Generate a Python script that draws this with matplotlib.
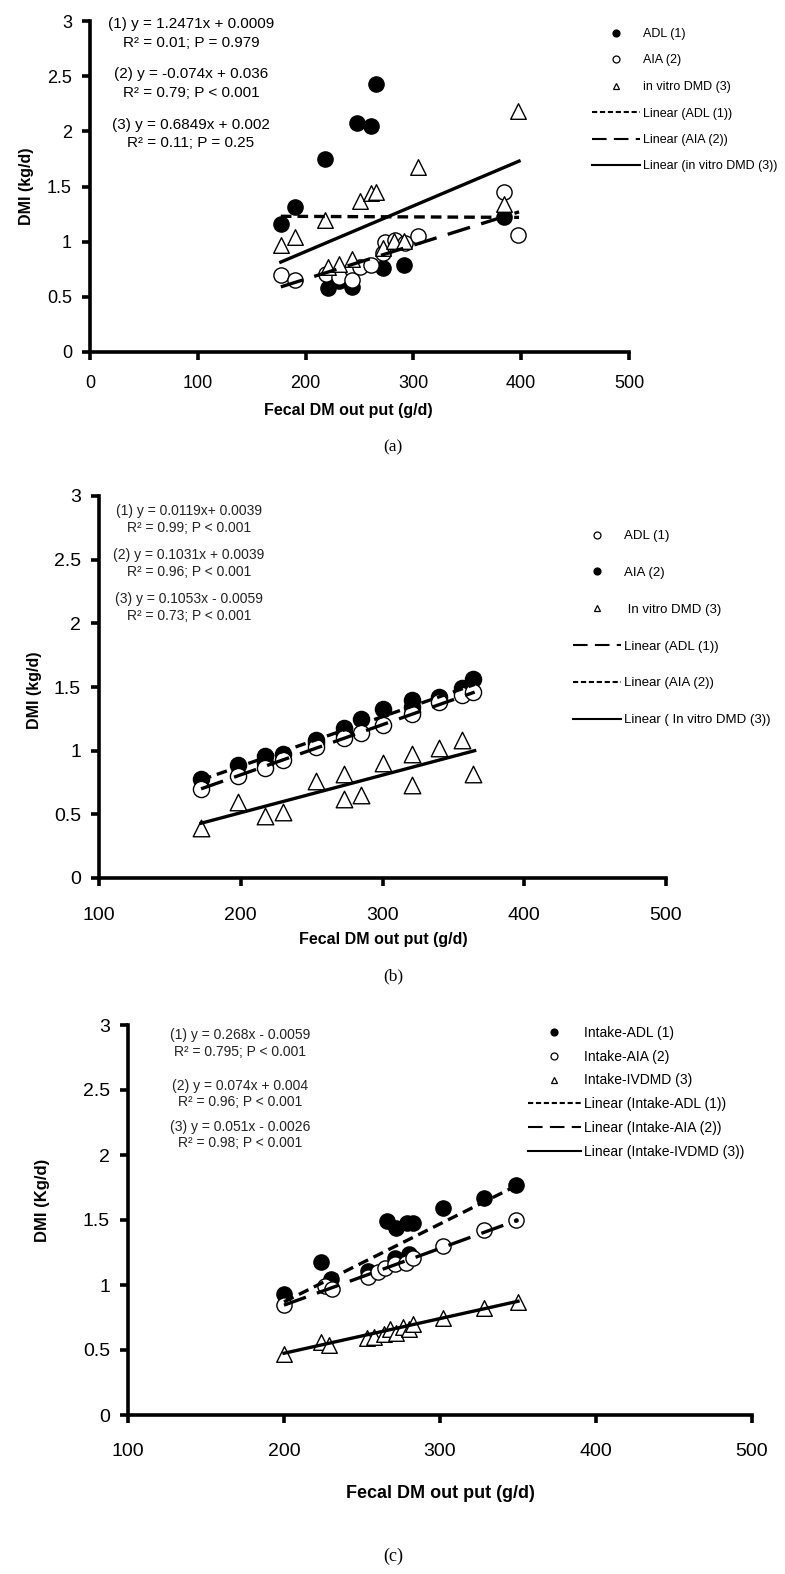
import matplotlib
matplotlib.use("Agg")
import matplotlib.pyplot as plt
from matplotlib.lines import Line2D

plt.rcParams['font.family'] = ['Liberation Sans', 'DejaVu Sans']

W, H = 785, 1574

# ---------------- Panel (a) data ----------------
a_adl_x = [177, 190, 218, 221, 231, 243, 248, 261, 265, 272, 291, 384]
a_adl_y = [1.16, 1.31, 1.75, 0.58, 0.64, 0.59, 2.08, 2.05, 2.43, 0.76, 0.79, 1.22]
a_aia_x = [177, 190, 219, 231, 243, 250, 261, 272, 274, 283, 292, 304, 384, 397]
a_aia_y = [0.70, 0.655, 0.71, 0.68, 0.65, 0.77, 0.79, 0.90, 1.00, 1.015, 0.985, 1.05, 1.45, 1.06]
a_ivd_x = [177, 190, 218, 221, 231, 243, 250, 261, 265, 272, 282, 291, 304, 384, 397]
a_ivd_y = [0.97, 1.04, 1.20, 0.77, 0.80, 0.84, 1.37, 1.44, 1.45, 0.94, 1.01, 1.01, 1.68, 1.34, 2.18]
a_fit_x = [177, 398]
a_fit_adl = [1.23, 1.22]
a_fit_aia = [0.59, 1.27]
a_fit_ivd = [0.815, 1.73]
a_labels = ["ADL (1)", "AIA (2)", "in vitro DMD (3)",
            "Linear (ADL (1))", "Linear (AIA (2))", "Linear (in vitro DMD (3))"]
a_eqs = ["(1) y = 1.2471x + 0.0009", "R² = 0.01; P = 0.979",
         "(2) y = -0.074x + 0.036", "R² = 0.79; P < 0.001",
         "(3) y = 0.6849x + 0.002", "R² = 0.11; P = 0.25"]

# ---------------- Panel (b) data ----------------
b_adl_x = [172, 198, 217, 230, 253, 273, 285, 300, 321, 340, 356, 364]
b_adl_y = [0.70, 0.80, 0.86, 0.93, 1.03, 1.10, 1.14, 1.20, 1.29, 1.38, 1.44, 1.46]
b_aia_x = [172, 198, 217, 217, 230, 253, 253, 273, 273, 285, 300, 321, 321, 340, 356, 364]
b_aia_y = [0.78, 0.89, 0.96, 0.90, 0.97, 1.08, 1.06, 1.18, 1.13, 1.25, 1.33, 1.40, 1.34, 1.42, 1.49, 1.56]
b_ivd_x = [172, 198, 217, 230, 253, 273, 273, 285, 300, 321, 321, 340, 356, 364]
b_ivd_y = [0.39, 0.60, 0.49, 0.52, 0.76, 0.82, 0.62, 0.65, 0.90, 0.97, 0.73, 1.02, 1.08, 0.82]
b_fit_x = [172, 365]
b_fit_adl = [0.70, 1.46]
b_fit_aia = [0.77, 1.52]
b_fit_ivd = [0.43, 1.00]
b_labels = ["ADL (1)", "AIA (2)", " In vitro DMD (3)",
            "Linear (ADL (1))", "Linear (AIA (2))", "Linear ( In vitro DMD (3))"]
b_eqs = ["(1) y = 0.0119x+ 0.0039", "R² = 0.99; P < 0.001",
         "(2) y = 0.1031x + 0.0039", "R² = 0.96; P < 0.001",
         "(3) y = 0.1053x - 0.0059", "R² = 0.73; P < 0.001"]

# ---------------- Panel (c) data ----------------
c_adl_x = [200, 224, 230, 254, 266, 271, 272, 279, 280, 283, 302, 328, 349]
c_adl_y = [0.93, 1.18, 1.05, 1.11, 1.49, 1.21, 1.44, 1.48, 1.24, 1.48, 1.59, 1.67, 1.77]
c_aia_x = [200, 226, 231, 254, 260, 265, 271, 278, 283, 302, 328, 349]
c_aia_y = [0.85, 0.99, 0.97, 1.06, 1.10, 1.13, 1.16, 1.17, 1.21, 1.30, 1.42, 1.50]
c_dot_x = [349]
c_dot_y = [1.50]
c_ivd_x = [200, 224, 229, 253, 258, 264, 268, 272, 276, 280, 283, 302, 328, 350]
c_ivd_y = [0.47, 0.56, 0.54, 0.59, 0.60, 0.62, 0.66, 0.63, 0.68, 0.66, 0.70, 0.75, 0.82, 0.87]
c_fit_x = [200, 350]
c_fit_adl = [0.87, 1.77]
c_fit_aia = [0.845, 1.50]
c_fit_ivd = [0.475, 0.875]
c_labels = ["Intake-ADL (1)", "Intake-AIA (2)", "Intake-IVDMD (3)",
            "Linear (Intake-ADL (1))", "Linear (Intake-AIA (2))", "Linear (Intake-IVDMD (3))"]
c_eqs = ["(1) y = 0.268x - 0.0059", "R² = 0.795; P < 0.001",
         "(2) y = 0.074x + 0.004", "R² = 0.96; P < 0.001",
         "(3) y = 0.051x - 0.0026", "R² = 0.98; P < 0.001"]

y_ticks = [0, 0.5, 1, 1.5, 2, 2.5, 3]
y_ticklabels = ["0", "0.5", "1", "1.5", "2", "2.5", "3"]

SHORT = (0, (3.2, 1.8))
LONG = (0, (7.0, 3.5))

fig = plt.figure(figsize=(W / 100, H / 100), dpi=100)


def fx(px):
    return px / W


def fy(py):
    return 1 - py / H


def make_axes(x0, x1, ytop, ybot):
    return fig.add_axes([fx(x0), fy(ybot), (x1 - x0) / W, (ybot - ytop) / H])


def style(ax, xlim, xticks, fs, xpad):
    ax.set_xlim(*xlim)
    ax.set_ylim(0, 3)
    ax.set_xticks(xticks)
    ax.set_yticks(y_ticks)
    ax.set_yticklabels(y_ticklabels)
    for s in ("top", "right"):
        ax.spines[s].set_visible(False)
    for s in ("left", "bottom"):
        ax.spines[s].set_linewidth(2.6)
    ax.tick_params(axis="both", direction="out", length=6, width=2.6, labelsize=fs)
    ax.tick_params(axis="x", pad=xpad)
    ax.tick_params(axis="y", pad=7)


def draw(ax, filled, opened, tri, fits, styles, ms):
    ax.scatter(filled[0], filled[1], s=ms, marker="o", facecolor="black",
               edgecolor="black", linewidth=1, zorder=2)
    ax.scatter(opened[0], opened[1], s=ms, marker="o", facecolor="white",
               edgecolor="black", linewidth=1, zorder=2.1)
    ax.scatter(tri[0], tri[1], s=ms * 1.05, marker="^", facecolor="white",
               edgecolor="black", linewidth=1, zorder=2.2)
    fx_, f1, f2, f3 = fits
    ax.plot(fx_, f1, color="black", lw=2.4, ls=styles[0], zorder=3)
    ax.plot(fx_, f2, color="black", lw=2.4, ls=styles[1], zorder=3)
    ax.plot(fx_, f3, color="black", lw=2.4, ls="-", zorder=3)


def legend(labels, first_filled, lstyles, x, y, fs, hl, spacing):
    mk1 = dict(marker="o", ls="none", mec="black", ms=5, mew=0.9)
    h = [
        Line2D([], [], mfc="black" if first_filled else "white", **mk1),
        Line2D([], [], mfc="white" if first_filled else "black", **mk1),
        Line2D([], [], marker="^", ls="none", mfc="white", mec="black", ms=5, mew=0.9),
        Line2D([], [], color="black", lw=1.5, ls=lstyles[0]),
        Line2D([], [], color="black", lw=1.5, ls=lstyles[1]),
        Line2D([], [], color="black", lw=1.5, ls="-"),
    ]
    fig.legend(h, labels, loc="upper left", bbox_to_anchor=(fx(x), fy(y)),
               frameon=False, borderpad=0, borderaxespad=0, fontsize=fs,
               handlelength=hl, handletextpad=0.25, labelspacing=spacing)


def equations(eqs, cx, ys, fs, color):
    for s, yy in zip(eqs, ys):
        fig.text(fx(cx), fy(yy), s, ha="center", va="center", fontsize=fs, color=color)


# ---- Panel (a)
axA = make_axes(90, 629, 21, 352)
style(axA, (0, 500), [0, 100, 200, 300, 400, 500], 13, 10.5)
draw(axA, (a_adl_x, a_adl_y), (a_aia_x, a_aia_y), (a_ivd_x, a_ivd_y),
     (a_fit_x, a_fit_adl, a_fit_aia, a_fit_ivd), (SHORT, LONG), 120)
legend(a_labels, True, ((0, (2.5, 1.3)), (0, (7, 3.5))), 592, 28, 9, 3.8, 1.16)
equations(a_eqs, 191, [24, 43, 74, 93, 125, 143], 11, "black")
fig.text(fx(27), fy(186), "DMI (kg/d)", rotation=90, ha="center", va="center",
         fontsize=11.5, fontweight="bold")
fig.text(fx(348), fy(411), "Fecal DM out put (g/d)", ha="center", va="center",
         fontsize=11.5, fontweight="bold")
fig.text(fx(393), fy(447), "(a)", ha="center", va="center", fontsize=12.5,
         family="Liberation Serif")

# ---- Panel (b)
axB = make_axes(99, 666, 496, 878)
style(axB, (100, 500), [100, 200, 300, 400, 500], 14, 15)
draw(axB, (b_aia_x, b_aia_y), (b_adl_x, b_adl_y), (b_ivd_x, b_ivd_y),
     (b_fit_x, b_fit_adl, b_fit_aia, b_fit_ivd), (LONG, SHORT), 135)
legend(b_labels, False, ((0, (7, 3.5)), (0, (2.5, 1.3))), 573, 530, 9.5, 3.6, 1.86)
equations(b_eqs, 189, [511, 528, 555, 572, 599, 616], 10, "#222222")
fig.text(fx(35), fy(690), "DMI (kg/d)", rotation=90, ha="center", va="center",
         fontsize=11.5, fontweight="bold")
fig.text(fx(383), fy(940), "Fecal DM out put (g/d)", ha="center", va="center",
         fontsize=11.5, fontweight="bold")
fig.text(fx(393), fy(976), "(b)", ha="center", va="center", fontsize=12.5,
         family="Liberation Serif")

# ---- Panel (c)
axC = make_axes(128, 752, 1025, 1415)
style(axC, (100, 500), [100, 200, 300, 400, 500], 14, 14.5)
draw(axC, (c_adl_x, c_adl_y), (c_aia_x, c_aia_y), (c_ivd_x, c_ivd_y),
     (c_fit_x, c_fit_adl, c_fit_aia, c_fit_ivd), (SHORT, LONG), 120)
axC.scatter(c_dot_x, c_dot_y, s=5, color="black", zorder=4)
legend(c_labels, True, ((0, (2.5, 1.3)), (0, (7, 3.5))), 528, 1026, 10, 3.8, 0.7)
equations(c_eqs, 240, [1035, 1052, 1086, 1102, 1127, 1143], 10, "#222222")
fig.text(fx(42), fy(1200), "DMI (Kg/d)", rotation=90, ha="center", va="center",
         fontsize=12, fontweight="bold")
fig.text(fx(440), fy(1493), "Fecal DM out put (g/d)", ha="center", va="center",
         fontsize=13, fontweight="bold")
fig.text(fx(393), fy(1556), "(c)", ha="center", va="center", fontsize=13,
         family="Liberation Serif")

fig.savefig("out.png", dpi=100)
